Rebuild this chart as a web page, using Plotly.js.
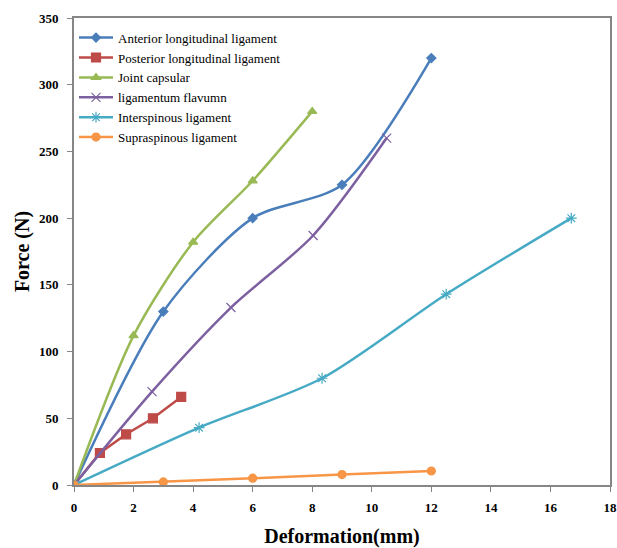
<!DOCTYPE html>
<html>
<head>
<meta charset="utf-8">
<script src="https://cdn.plot.ly/plotly-3.0.1.min.js"></script>
<style>html,body{margin:0;padding:0;background:#fff;}#chart{width:617px;height:548px;}</style>
</head>
<body>
<div id="chart"></div>
<script>
const seriesNames = ["Anterior longitudinal ligament","Posterior longitudinal ligament","Joint capsular","ligamentum flavumn","Interspinous ligament","Supraspinous ligament"];
const anteriorX = [0, 3, 6, 9, 12];
const anteriorY = [0, 130, 200, 225, 320];
const posteriorX = [0, 0.87, 1.75, 2.65, 3.6];
const posteriorY = [0, 24, 38, 50, 66];
const jointX = [0, 2, 4, 6, 8];
const jointY = [0, 112, 182, 228, 280];
const flavumX = [0, 2.62, 5.27, 8.03, 10.5];
const flavumY = [0, 70, 133, 187, 260];
const interX = [0, 4.2, 8.33, 12.5, 16.7];
const interY = [0, 43, 80, 143, 200];
const supraX = [0, 3, 6, 9, 12];
const supraY = [0, 2.3, 5.1, 7.8, 10.5];
const xTicks = [0,2,4,6,8,10,12,14,16,18];
const yTicks = [0,50,100,150,200,250,300,350];

const colors = ["#4a7ebb","#be4b48","#98b954","#7d60a0","#46aac5","#f79646"];
const symbols = ["diamond","square","triangle-up","x-thin-open","asterisk-open","circle"];
const sizes = [7,9,8,9,9,8];
const shapes = ["spline","linear","spline","spline","spline","linear"];
const xs = [anteriorX,posteriorX,jointX,flavumX,interX,supraX];
const ys = [anteriorY,posteriorY,jointY,flavumY,interY,supraY];

const traces = seriesNames.map((n,i)=>({
  type:'scatter', mode:'lines+markers', name:n, x:xs[i], y:ys[i],
  line:{color:colors[i], width:2.5, shape:shapes[i], smoothing:0.8},
  marker:{symbol:symbols[i], size:sizes[i], color:colors[i], line:{color:colors[i], width:1.2}}
}));

const layout = {
  width:617, height:548,
  margin:{l:74, r:7, t:18, b:63},
  paper_bgcolor:'#fff', plot_bgcolor:'#fff',
  font:{family:'"Liberation Serif", "Times New Roman", serif', color:'#000'},
  showlegend:true,
  legend:{x:0.0, xanchor:'left', y:0.99, yanchor:'top', bgcolor:'rgba(0,0,0,0)', font:{size:13, color:'#000'}, tracegroupgap:0, itemwidth:34},
  xaxis:{range:[0,18], tickvals:xTicks, ticktext:xTicks.map(String), showgrid:false, zeroline:false,
    showline:true, linecolor:'#868686', linewidth:2, mirror:true, ticks:'outside', ticklen:5, tickcolor:'#868686',
    ticklabelstandoff:4,
    tickfont:{size:13, family:'"Liberation Serif", serif', weight:'bold'},
    title:{text:'<b>Deformation(mm)</b>', font:{size:20}, standoff:18}},
  yaxis:{range:[0,350], tickvals:yTicks, ticktext:yTicks.map(String), showgrid:false, zeroline:false,
    showline:true, linecolor:'#868686', linewidth:2, mirror:true, ticks:'outside', ticklen:5, tickcolor:'#868686',
    ticklabelstandoff:6,
    tickfont:{size:13, family:'"Liberation Serif", serif', weight:'bold'},
    title:{text:'<b>Force (N)</b>', font:{size:20}, standoff:4}}
};
Plotly.newPlot('chart', traces, layout, {displayModeBar:false, staticPlot:true});
</script>
</body>
</html>
